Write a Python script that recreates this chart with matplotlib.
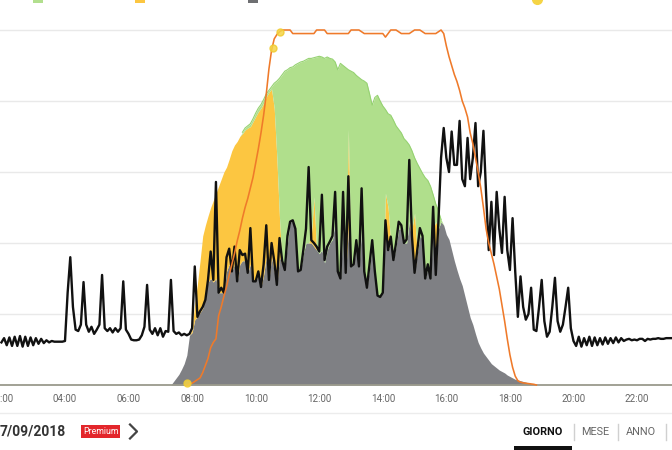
import numpy as np
import matplotlib
matplotlib.use("Agg")
import matplotlib.pyplot as plt
from matplotlib.patches import Rectangle
from matplotlib.lines import Line2D

plt.rcParams['font.family'] = ['Roboto', 'DejaVu Sans']

# consumo (linea nera), passo 5 minuti dalle 02:00
consumo = [
    0.6, 0.66, 0.56, 0.67, 0.55, 0.68, 0.55, 0.69, 0.54, 0.68, 0.55, 0.67,   # 02
    0.56, 0.66, 0.58, 0.65, 0.59, 0.63, 0.6, 0.62, 0.61, 0.61, 0.61, 0.61,   # 03
    0.62, 1.3, 1.8, 1.1, 0.78, 0.76, 0.85, 1.45, 0.85, 0.75, 0.82, 0.72,     # 04
    0.78, 0.85, 1.55, 0.8, 0.76, 0.8, 0.74, 0.8, 0.75, 0.8, 1.46, 0.78,      # 05
    0.72, 0.64, 0.63, 0.63, 0.64, 0.7, 0.82, 1.41, 0.78, 0.72, 0.8, 0.7,     # 06
    0.8, 0.68, 0.76, 0.75, 1.48, 0.76, 0.72, 0.74, 0.7, 0.72, 0.7, 0.72,     # 07
    0.8, 1.67, 0.96, 1.04, 1.1, 1.2, 1.48, 1.88, 1.48, 2.86, 1.3, 1.37,      # 08
    1.3, 1.8, 1.92, 1.6, 1.95, 1.46, 1.9, 1.83, 1.85, 1.58, 2.21, 1.46,      # 09
    1.46, 1.6, 1.38, 1.7, 2.25, 1.48, 2.0, 1.75, 1.41, 2.07, 1.75, 1.62,     # 10
    2.1, 2.3, 2.32, 2.2, 1.6, 1.62, 1.9, 2.2, 3.07, 2.04, 2.0, 1.95,         # 11
    1.88, 2.68, 1.76, 1.95, 2.02, 2.1, 2.72, 1.6, 1.5, 2.72, 1.58, 2.94,     # 12
    1.67, 1.7, 2.04, 1.67, 2.77, 1.6, 1.37, 1.7, 2.04, 1.6, 1.26, 1.24,      # 13
    1.3, 2.32, 1.9, 2.09, 1.76, 2.0, 2.3, 2.25, 2.0, 2.05, 3.17, 2.1,        # 14
    1.58, 1.9, 2.21, 2.1, 1.5, 1.7, 1.5, 2.51, 1.55, 2.3, 3.2, 3.62,         # 15
    3.2, 3.0, 3.57, 3.1, 3.1, 3.72, 2.9, 2.8, 3.48, 2.9, 3.2, 3.69,          # 16
    2.8, 3.0, 3.58, 2.7, 1.9, 2.58, 1.83, 2.72, 2.2, 1.86, 2.65, 1.9,        # 17
    1.62, 2.35, 1.6, 0.96, 1.53, 1.1, 0.92, 1.0, 1.37, 0.78, 0.76, 1.1,      # 18
    1.48, 0.9, 0.68, 0.75, 1.1, 1.51, 0.9, 0.75, 0.85, 1.1, 1.37, 0.8,       # 19
    0.62, 0.55, 0.68, 0.54, 0.66, 0.56, 0.68, 0.55, 0.67, 0.56, 0.66, 0.57,  # 20
    0.67, 0.58, 0.66, 0.59, 0.67, 0.6, 0.66, 0.62, 0.64, 0.65, 0.63, 0.64,   # 21
    0.63, 0.65, 0.65, 0.62, 0.65, 0.64, 0.65, 0.65, 0.66, 0.65, 0.65, 0.66,  # 22
    0.66, 0.66, 0.66,                                                       # 23
]

# aree, passo 5 minuti dalle 07:00 alle 19:00
produzione = [
    0, 0, 0, 0, 0, 0.05, 0.1, 0.15, 0.22, 0.3, 0.42, 0.7,
    0.78, 1.15, 1.42, 1.75, 2.1, 2.25, 2.38, 2.5, 2.6, 2.7, 2.8, 2.9,
    3.0, 3.07, 3.18, 3.3, 3.38, 3.43, 3.5, 3.56, 3.62, 3.65, 3.68, 3.75,
    3.83, 3.9, 3.95, 4.02, 4.1, 4.15, 4.2, 4.25, 4.28, 4.32, 4.37, 4.42,
    4.44, 4.47, 4.48, 4.51, 4.53, 4.55, 4.56, 4.58, 4.6, 4.6, 4.61, 4.62,
    4.63, 4.62, 4.6, 4.62, 4.6, 4.59, 4.55, 4.44, 4.53, 4.5, 4.47, 4.44,
    4.42, 4.4, 4.36, 4.33, 4.3, 4.28, 4.25, 4.1, 3.94, 4.05, 4.08, 4.0,
    3.93, 3.88, 3.82, 3.8, 3.73, 3.65, 3.6, 3.55, 3.47, 3.43, 3.38, 3.3,
    3.2, 3.12, 3.05, 2.98, 2.92, 2.88, 2.8, 2.68, 2.55, 2.45, 2.33, 2.25,
    2.12, 2.05, 1.9, 1.75, 1.62, 1.5, 1.4, 1.25, 1.1, 0.95, 0.85, 0.72,
    0.6, 0.52, 0.45, 0.4, 0.35, 0.3, 0.27, 0.24, 0.21, 0.19, 0.17, 0.14,
    0.12, 0.1, 0.08, 0.07, 0.06, 0.05, 0.04, 0.03, 0.02, 0.01, 0, 0,
    0,
]
autoconsumo = [
    0, 0, 0, 0, 0, 0.05, 0.1, 0.15, 0.22, 0.3, 0.42, 0.7,
    0.74, 0.92, 0.96, 1.02, 1.08, 1.3, 1.45, 1.5, 1.45, 1.5, 1.3, 1.3,
    1.3, 1.6, 1.7, 1.6, 1.7, 1.46, 1.7, 1.75, 1.75, 1.58, 1.7, 1.46,
    1.46, 1.55, 1.38, 1.55, 1.8, 1.48, 1.8, 1.6, 1.41, 1.8, 1.7, 1.62,
    2.0, 2.3, 2.3, 2.2, 1.6, 1.62, 1.85, 2.0, 2.0, 2.0, 1.95, 1.9,
    1.85, 1.9, 1.72, 1.9, 2.0, 2.05, 2.3, 1.6, 1.5, 2.2, 1.58, 2.2,
    1.67, 1.7, 1.95, 1.67, 2.2, 1.6, 1.37, 1.65, 1.95, 1.6, 1.26, 1.24,
    1.3, 2.2, 1.9, 2.0, 1.76, 1.95, 2.2, 2.2, 2.0, 2.0, 2.3, 2.0,
    1.58, 1.85, 2.1, 2.05, 1.5, 1.65, 1.5, 2.2, 1.55, 2.2, 2.3, 2.25,
    2.12, 2.05, 1.9, 1.75, 1.62, 1.5, 1.4, 1.25, 1.1, 0.95, 0.85, 0.72,
    0.6, 0.52, 0.45, 0.4, 0.35, 0.3, 0.27, 0.24, 0.21, 0.19, 0.17, 0.14,
    0.12, 0.1, 0.08, 0.07, 0.06, 0.05, 0.04, 0.03, 0.02, 0.01, 0, 0,
    0,
]
carica = [
    0, 0, 0, 0, 0, 0, 0, 0, 0, 0, 0, 0,
    0.04, 0.23, 0.46, 0.73, 1.02, 0.95, 0.93, 1.0, 1.15, 1.2, 1.5, 1.6,
    1.7, 1.47, 1.48, 1.7, 1.68, 1.97, 1.8, 1.79, 1.84, 2.04, 1.94, 2.25,
    2.32, 2.3, 2.52, 2.42, 2.26, 2.64, 2.37, 2.3, 1.79, 0.55, 0, 0,
    0, 0, 0, 0, 0, 0, 0, 0, 0, 0.1, 0.7, 0,
    0, 0, 0, 0, 0, 0, 0, 0, 0, 0, 0, 1.4,
    0, 0, 0, 0, 0, 0, 0, 0, 0, 0, 0, 0,
    0, 0.5, 0.6, 0, 0, 0, 0, 0, 0, 0, 0, 0.2,
    0.84, 0, 0, 0, 0, 0, 0, 0, 0.75, 0, 0, 0,
    0, 0, 0, 0, 0, 0, 0, 0, 0, 0, 0, 0,
    0, 0, 0, 0, 0, 0, 0, 0, 0, 0, 0, 0,
    0, 0, 0, 0, 0, 0, 0, 0, 0, 0, 0, 0,
    0,
]

# stato di carica batteria (%), passo 5 minuti dalle 07:50 alle 18:50
soc = [
    0, 0.3,
    0.5, 1, 1.5, 2, 3.5, 5.5, 7.5, 10.5, 12, 13, 19.5, 22,                  # 08
    25, 27.7, 31, 34, 37, 40.5, 43.5, 47, 50, 52.5, 55.5, 58.5,             # 09
    62.5, 66.5, 71, 76, 82, 89, 94.3, 97.5, 98.7, 99.5, 100, 100,           # 10
    100, 100, 99, 99, 99, 99, 99, 99, 99, 99, 99, 100,                      # 11
    100, 100, 100, 99, 99, 99, 99, 99, 99, 99, 99, 99,                      # 12
    100, 100, 100, 100, 99.5, 99, 99, 99, 99, 99, 99, 99,                   # 13
    99, 98, 99, 100, 100, 100, 99.5, 99, 99, 99, 99, 99.5,                  # 14
    100, 100, 100, 99.5, 99, 99, 99, 99, 99, 99.5, 100, 99,                 # 15
    95.5, 92.5, 90, 87.5, 85.5, 83, 80, 78, 75.5, 71, 68, 64,               # 16
    60, 55.5, 50, 44, 40, 37, 34, 30.5, 27, 22.5, 18, 13,                   # 17
    8.5, 5, 2.5, 1.2, 0.8, 0.6, 0.5, 0.4, 0.3, 0.2, 0,                      # 18
]
eventi_ora = [7.83, 10.55, 10.77]
eventi_soc = [0.5, 95, 99.5]

ore_tick = list(range(2, 23, 2))
etichette_tick = [f"{h:02d}:00" for h in ore_tick]

legenda = [
    ("Produzione", "#b2df8e", "s", 33),
    ("Carica batteria", "#fcc641", "s", 135),
    ("Autoconsumo diretto", "#6e6f72", "s", 248),
    ("Consumo", None, None, 393),
    ("Stato batteria", None, None, 460),
    ("Eventi", "#f5d445", "o", 533),
]

t_cons = 2 + np.arange(len(consumo)) * 5 / 60
t_area = 7 + np.arange(len(produzione)) * 5 / 60
t_soc = 7 + 50 / 60 + np.arange(len(soc)) * 5 / 60

prod = np.array(produzione)
grigio = np.array(autoconsumo)
giallo = grigio + np.array(carica)

W, H = 672, 450
fig = plt.figure(figsize=(W / 100, H / 100), dpi=100)
ax = fig.add_axes([0, 65 / H, 1, 360 / H])
ax.set_xlim(1.955, 23.1)
ax.set_ylim(0, 360 / 71)

ax.fill_between(t_area, 0, grigio, color="#7f8084", lw=0, zorder=2)
ax.fill_between(t_area, grigio, giallo, color="#fcc641", lw=0, zorder=2)
ax.fill_between(t_area, giallo, prod, where=prod > giallo + 1e-6, interpolate=True,
                color="#b0df8c", lw=0, zorder=2)
bordo = np.where(prod > giallo + 0.005, prod, np.nan)
ax.plot(t_area, bordo, color="#96d272", lw=0.8, zorder=2)

ax.plot(t_cons, consumo, color="#111111", lw=1.7, zorder=4)

ax.set_yticks([1, 2, 3, 4, 5])
ax.yaxis.grid(True, color="#e9e9e9", lw=1)
ax.set_axisbelow(True)
ax.set_xticks(ore_tick)
ax.set_xticklabels(etichette_tick)
ax.tick_params(axis="x", length=0, pad=6.5, labelsize=7, labelcolor="#666666")
ax.tick_params(axis="y", length=0, labelleft=False)
for s in ("top", "left", "right"):
    ax.spines[s].set_visible(False)
ax.spines["bottom"].set_color("#9a9a8c")
ax.spines["bottom"].set_linewidth(1.3)
ax.spines["bottom"].set_zorder(5)

ax2 = ax.twinx()
ax2.set_ylim(0, 360 / 71 * 20)
ax2.axis("off")
ax2.plot(t_soc, soc, color="#ef7a2a", lw=1.15, zorder=3, clip_on=False)
ax2.plot(eventi_ora, eventi_soc, "o", color="#f5d445", ms=5, alpha=0.85,
         mec="#f0cc30", zorder=4, clip_on=False)


def fx(x):
    return x / W


def fy(y):
    return 1 - y / H


# legenda tagliata in alto
for nome, col, mk, x in legenda:
    tx = x
    if mk == "s":
        fig.patches.append(Rectangle((fx(x), fy(3)), 10 / W, 10 / H, transform=fig.transFigure,
                                     color=col, lw=0))
        tx = x + 20
    elif mk == "o":
        fig.lines.append(Line2D([fx(x + 4)], [fy(-1)], marker="o", ms=7, color=col,
                                transform=fig.transFigure))
        tx = x + 16
    fig.text(fx(tx), fy(0.3), nome, fontsize=9, color="#d2d2d2", va="baseline", ha="left")

# separatore
fig.lines.append(Line2D([0, 1], [fy(413), fy(413)], color="#ececec", lw=1,
                        transform=fig.transFigure))

# riga data
fig.text(fx(0), fy(431.5), "7/09/2018", fontsize=10, fontweight="bold", color="#333333",
         va="center", ha="left")
fig.patches.append(Rectangle((fx(81), fy(438)), 39 / W, 13 / H, transform=fig.transFigure,
                             color="#e3262b", lw=0))
fig.text(fx(100.5), fy(431.5), "Premium", fontsize=6.3, color="white", va="center", ha="center")
fig.lines.append(Line2D([fx(130), fx(137), fx(130)], [fy(424.5), fy(431.5), fy(438.5)],
                        color="#444444", lw=1.6, transform=fig.transFigure))

fig.text(fx(543), fy(432), "GIORNO", fontsize=7.8, fontweight="bold", color="#111111",
         va="center", ha="center")
fig.text(fx(595), fy(432), "MESE", fontsize=7.8, color="#666666", va="center", ha="center")
fig.text(fx(641), fy(432), "ANNO", fontsize=7.8, color="#666666", va="center", ha="center")
for xs in (574, 618, 666):
    fig.lines.append(Line2D([fx(xs), fx(xs)], [fy(424), fy(440)], color="#d0d0d0", lw=1,
                            transform=fig.transFigure))
fig.patches.append(Rectangle((fx(514), fy(450)), 58 / W, 4.5 / H, transform=fig.transFigure,
                             color="#111111", lw=0))

fig.savefig("out.png", dpi=100)
